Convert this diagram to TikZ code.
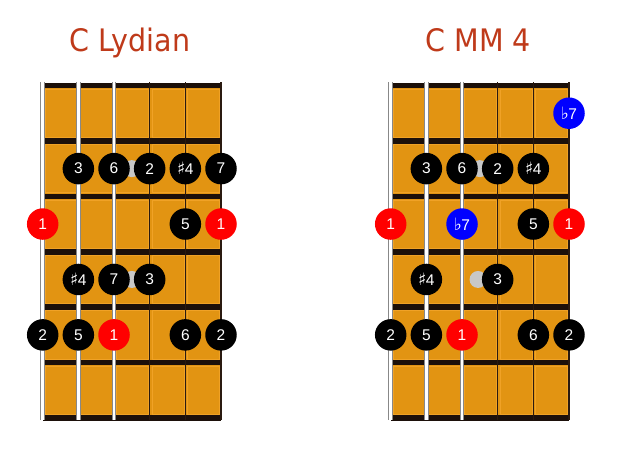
\documentclass[tikz,border=0pt]{standalone}
\usepackage{fontspec}
\setmainfont{Liberation Sans}
\newfontfamily\titlefont[FakeStretch=0.92]{DejaVu Sans}
\newfontfamily\accfont{DejaVu Sans}
\definecolor{board}{HTML}{E29412}
\definecolor{boardedge}{HTML}{F0A226}
\definecolor{fretc}{HTML}{1C100A}
\definecolor{titlec}{HTML}{BF3A1A}
\definecolor{dotred}{HTML}{FF0000}
\definecolor{dotblue}{HTML}{0000FF}
\definecolor{ghostc}{HTML}{C8C8C8}
\definecolor{strout}{HTML}{888888}
\definecolor{thinstr}{HTML}{2A1A10}
\newcommand\mysharp{{\accfont\fontsize{17}{17}\selectfont ♯}\kern-0.5pt}
\newcommand\myflat{{\accfont\fontsize{17}{17}\selectfont ♭}\kern-0.5pt}
\tikzset{
  note/.style={circle, fill=black, minimum size=31.5pt, inner sep=0pt, text=white,
    font=\fontsize{15.5}{15.5}\selectfont},
  root/.style={note, fill=dotred},
  flatnote/.style={note, fill=dotblue},
  ghostdot/.style={circle, fill=ghostc, minimum size=17pt, inner sep=0pt},
  titletext/.style={text=titlec, font=\titlefont\fontsize{31}{31}\selectfont, inner sep=0pt},
  fretbar/.style={draw=fretc, line width=5.5pt},
  woundouter/.style={draw=strout, line width=4.5pt},
  woundinner/.style={draw=white, line width=2.5pt},
  plainstr/.style={draw=thinstr, line width=1.3pt},
  celledge/.style={draw=boardedge, line width=0.8pt},
}
\newcommand\fretboard{%
  \fill[board] (0,-0.5) rectangle (5,5.5);
  \foreach \j in {0,...,5} {
    \foreach \i in {0,...,4} {
      \draw[celledge] ([xshift=2.5pt,yshift=-3.6pt]\i,\j-0.5) rectangle ([xshift=-1.2pt,yshift=3.6pt]\i+1,\j+0.5);
    }
  }
  \foreach \j in {0,...,6} { \draw[fretbar] (0,\j-0.5) -- (5,\j-0.5); }
  \foreach \k in {0,1,2} {
    \draw[woundouter] ([yshift=3.5pt]\k,-0.5) -- ([yshift=-2pt]\k,5.5);
    \draw[woundinner] ([yshift=3.2pt]\k,-0.5) -- ([yshift=-1.7pt]\k,5.5);
  }
  \foreach \k in {3,4} { \draw[plainstr] ([yshift=3pt]\k,-0.5) -- ([yshift=-2pt]\k,5.5); }
  \draw[plainstr, line width=1.1pt] ([yshift=3pt]5,-0.5) -- ([yshift=-2pt]5,5.5);
}
\begin{document}
\begin{tikzpicture}[x=1pt,y=-1pt]
\useasboundingbox (0,0) rectangle (620,460);
\fill[white] (0,0) rectangle (620,460);
\node[titletext, anchor=base] (tL) at (130,51.7) {C Lydian};
\node[titletext, anchor=base] (tR) at (478.3,51.7) {C MM 4};

\begin{scope}[shift={(42.7pt,-113.2pt)}, x=35.66pt, y=-55.42pt]
  \fretboard
  \node[ghostdot] (gL1) at (2.5,1) {};
  \node[ghostdot] (gL3) at (2.5,3) {};
  \node[note] (L21) at (1,1) {3};
  \node[note] (L22) at (2,1) {6};
  \node[note] (L23) at (3,1) {2};
  \node[note] (L24) at (4,1) {\mysharp4};
  \node[note] (L25) at (5,1) {7};
  \node[root] (L30) at (0,2) {1};
  \node[note] (L34) at (4,2) {5};
  \node[root] (L35) at (5,2) {1};
  \node[note] (L41) at (1,3) {\mysharp4};
  \node[note] (L42) at (2,3) {7};
  \node[note] (L43) at (3,3) {3};
  \node[note] (L50) at (0,4) {2};
  \node[note] (L51) at (1,4) {5};
  \node[root] (L52) at (2,4) {1};
  \node[note] (L54) at (4,4) {6};
  \node[note] (L55) at (5,4) {2};
\end{scope}

\begin{scope}[shift={(390.7pt,-113.2pt)}, x=35.66pt, y=-55.42pt]
  \fretboard
  \node[ghostdot] (gR1) at (2.5,1) {};
  \node[ghostdot] (gR3) at (2.45,3) {};
  \node[flatnote] (R15) at (5,0) {\myflat7};
  \node[note] (R21) at (1,1) {3};
  \node[note] (R22) at (2,1) {6};
  \node[note] (R23) at (3,1) {2};
  \node[note] (R24) at (4,1) {\mysharp4};
  \node[root] (R30) at (0,2) {1};
  \node[flatnote] (R32) at (2,2) {\myflat7};
  \node[note] (R34) at (4,2) {5};
  \node[root] (R35) at (5,2) {1};
  \node[note] (R41) at (1,3) {\mysharp4};
  \node[note] (R43) at (3,3) {3};
  \node[note] (R50) at (0,4) {2};
  \node[note] (R51) at (1,4) {5};
  \node[root] (R52) at (2,4) {1};
  \node[note] (R54) at (4,4) {6};
  \node[note] (R55) at (5,4) {2};
\end{scope}
\end{tikzpicture}
\end{document}
